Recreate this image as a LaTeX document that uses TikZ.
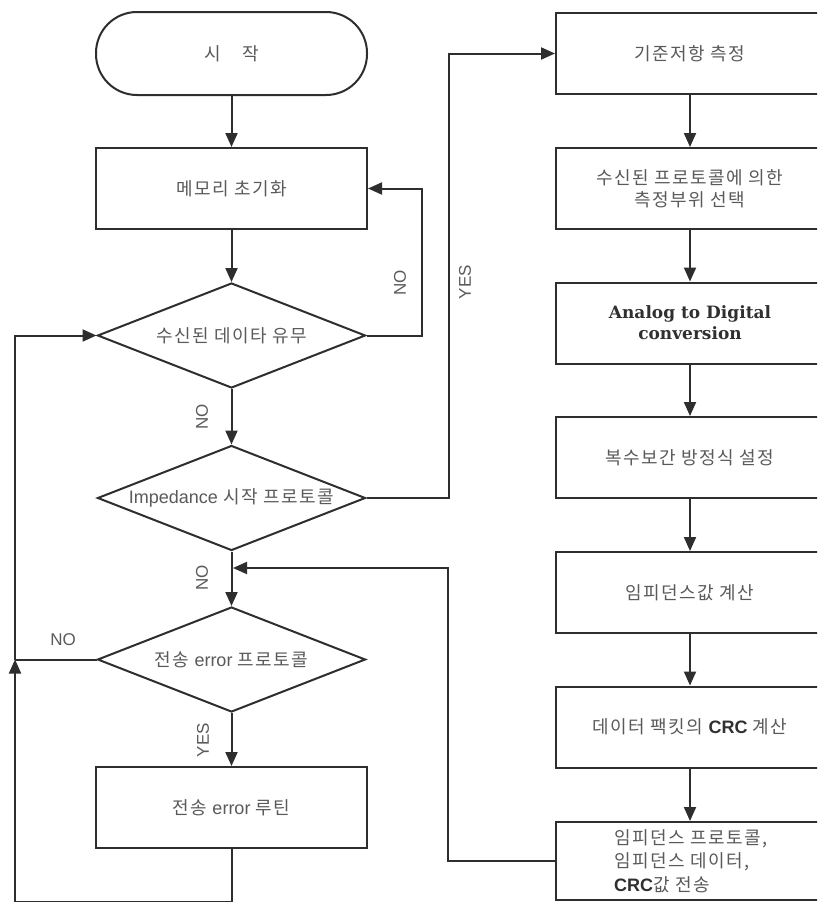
\documentclass[tikz,border=0pt]{standalone}
\usepackage{fontspec}
\setmainfont{Noto Sans CJK KR}
\newfontfamily\krfont[LetterSpace=8]{Noto Sans CJK KR}
\newfontfamily\latsans{Liberation Sans}
\newfontfamily\serifbold{DejaVu Serif}
\usetikzlibrary{shapes.geometric,arrows.meta}
\definecolor{linec}{HTML}{2E2E2E}
\definecolor{txtc}{HTML}{5A5A5A}
\definecolor{darktxt}{HTML}{303030}
\newcommand\krtext{\krfont\fontsize{18}{22}\selectfont}
\newcommand\crcb[1]{{\latsans\bfseries\fontsize{18}{22}\selectfont\color{darktxt}#1}}
\newcommand\latw[1]{{\latsans\fontsize{18}{22}\selectfont #1}}
\tikzset{
  ln/.style={draw=linec, line width=2pt},
  arr/.style={ln, -{Triangle[length=14pt,width=12pt]}},
  box/.style={ln, rectangle, minimum width=271pt, minimum height=81pt, inner sep=0pt,
              text=txtc, font=\krtext, align=center},
  rbox/.style={box, minimum width=268pt},
  term/.style={box, rounded corners=41pt, minimum height=83pt},
  dia/.style={ln, diamond, minimum width=268pt, minimum height=105pt, inner sep=0pt,
              text=txtc, font=\krtext},
  lab/.style={text=txtc, font=\latsans\fontsize{17}{20}\selectfont, inner sep=0pt}
}
\begin{document}
\begin{tikzpicture}[x=1pt,y=-1pt]
\clip (0,0) rectangle (817,902);
\fill[white] (0,0) rectangle (817,902);

% left column
\node[term] (start) at (231.5,53.5) {시\hspace{1.2em}작};
\node[box] (mem) at (231.5,188.5) {메모리 초기화};
\node[dia] (d1) at (231.5,335.5) {\makebox[0pt]{수신된 데이타 유무}};
\node[dia] (d2) at (231.5,498) {\makebox[0pt]{\latw{Impedance} 시작 프로토콜}};
\node[dia] (d3) at (231.5,659.5) {\makebox[0pt]{전송 \latw{error} 프로토콜}};
\node[box] (err) at (231.5,807.5) {전송 \latw{error} 루틴};

% right column
\node[rbox] (r1) at (690,53.5) {기준저항 측정};
\node[rbox] (r2) at (690,188.5) {수신된 프로토콜에 의한\\측정부위 선택};
\node[rbox, font=\serifbold\bfseries\fontsize{17}{21}\selectfont, text=darktxt] (r3) at (690,323) {Analog to Digital\\conversion};
\node[rbox] (r4) at (690,457.5) {복수보간 방정식 설정};
\node[rbox] (r5) at (690,592.5) {임피던스값 계산};
\node[rbox] (r6) at (690,727) {데이터 팩킷의 \crcb{CRC} 계산};
\node[rbox, minimum height=78pt] (r7) at (690,861) {};
\node[text=txtc, font=\krtext, align=left, anchor=west, inner sep=0pt,
      execute at begin node=\setlength{\baselineskip}{23.5pt}] (r7t) at (614,861)
      {임피던스 프로토콜,\\임피던스 데이터,\\\crcb{CRC}값 전송};

% junction coordinates
\coordinate (jn) at (15,659.5);
\coordinate (jr) at (233,568);

% main flow
\draw[arr] (start) -- (mem);
\draw[arr] (mem) -- (d1);
\draw[arr] (d1) -- (d2);
\draw[arr] (d2) -- (d3);
\draw[arr] (d3) -- (err);
\draw[arr] (d1.east) -- ++(55,0) |- (mem.east);
\draw[arr] (d2.east) -- ++(82,0) |- (r1.west);
\draw[ln] (d3.west) -- (jn);
\draw[arr] (err.south) -- ++(0,52.5) -| (jn);
\draw[arr] (jn) |- (d1.west);

\draw[arr] (r1) -- (r2);
\draw[arr] (r2) -- (r3);
\draw[arr] (r3) -- (r4);
\draw[arr] (r4) -- (r5);
\draw[arr] (r5) -- (r6);
\draw[arr] (r6) -- (r7);
\draw[arr] (r7.west) -- (447.5,861) |- (jr);

% labels
\node[lab, rotate=90] (lno1) at (400,283) {NO};
\node[lab, rotate=90] (lyes1) at (465,282) {YES};
\node[lab, rotate=90] (lno2) at (202,417) {NO};
\node[lab, rotate=90] (lno3) at (202,578) {NO};
\node[lab] (lno4) at (63,640) {NO};
\node[lab, rotate=90] (lyes2) at (203,740) {YES};
\end{tikzpicture}
\end{document}
